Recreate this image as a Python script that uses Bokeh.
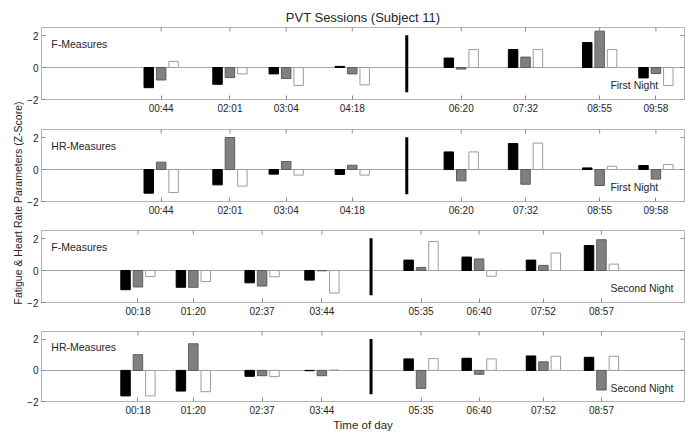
from bokeh.plotting import figure
from bokeh.models import Range1d, FixedTicker, Label, ColumnDataSource
from bokeh.layouts import row, column
from bokeh.transform import dodge
from bokeh.embed import file_html
from bokeh.resources import INLINE

FONT = "Liberation Sans"
TXT = "#262626"
TICK = "#8c8c8c"

title_text = "PVT Sessions (Subject 11)"
y_label_text = "Fatigue & Heart Rate Parameters (Z-Score)"
x_label_text = "Time of day"

# session times (minutes after midnight) and their tick labels
night1_minutes = [44, 121, 184, 258, 380, 452, 535, 598]
night1_labels = ["00:44", "02:01", "03:04", "04:18", "06:20", "07:32", "08:55", "09:58"]
night2_minutes = [18, 80, 157, 224, 335, 400, 472, 537]
night2_labels = ["00:18", "01:20", "02:37", "03:44", "05:35", "06:40", "07:52", "08:57"]

# time of the break between sessions (minutes) and its extent (z-score)
night1_break = [319]
night2_break = [279]
break_top = [2.02]
break_bottom = [-1.54]

y_ticks = [-2, 0, 2]

# First night, F-measures
n1_f_black = [-1.26, -1.05, -0.40, 0.07, 0.59, 1.12, 1.56, -0.65]
n1_f_grey = [-0.78, -0.63, -0.69, -0.40, -0.10, 0.65, 2.27, -0.38]
n1_f_white = [0.38, -0.40, -1.12, -1.09, 1.12, 1.12, 1.12, -1.12]
# First night, HR-measures
n1_hr_black = [-1.48, -0.96, -0.29, -0.31, 1.10, 1.62, 0.10, 0.25]
n1_hr_grey = [0.46, 2.00, 0.50, 0.27, -0.71, -0.92, -1.00, -0.60]
n1_hr_white = [-1.44, -1.04, -0.35, -0.35, 1.10, 1.65, 0.20, 0.31]
# Second night, F-measures
n2_f_black = [-1.20, -1.05, -0.77, -0.60, 0.65, 0.84, 0.65, 1.56]
n2_f_grey = [-1.03, -1.05, -0.97, -0.02, 0.19, 0.72, 0.32, 1.92]
n2_f_white = [-0.38, -0.69, -0.39, -1.41, 1.81, -0.36, 1.09, 0.40]
# Second night, HR-measures
n2_hr_black = [-1.64, -1.33, -0.38, -0.02, 0.74, 0.78, 0.93, 0.84]
n2_hr_grey = [1.01, 1.71, -0.34, -0.34, -1.16, -0.25, 0.55, -1.26]
n2_hr_white = [-1.64, -1.37, -0.40, 0.02, 0.76, 0.74, 0.91, 0.91]


def style_axis(ax, ticks, overrides=None):
    ax.ticker = FixedTicker(ticks=ticks)
    ax.major_tick_in = 4
    ax.major_tick_out = 0
    ax.minor_tick_in = 0
    ax.minor_tick_out = 0
    ax.axis_line_color = None
    ax.major_tick_line_color = TICK
    if overrides:
        ax.major_label_overrides = overrides
    ax.major_label_text_font = FONT
    ax.major_label_text_font_size = "10px"
    ax.major_label_text_color = TXT
    ax.major_label_standoff = 3


def panel(minutes, labels, black, grey, white, brk, measure, night,
          height, b_top, b_bottom, title=None):
    src = ColumnDataSource(dict(x=minutes, black=black, grey=grey, white=white))
    xr = Range1d(-90, 630)
    yr = Range1d(-2, 2.5)
    p = figure(width=668, height=height, x_range=xr, y_range=yr,
               output_backend="svg", toolbar_location=None, title=title,
               min_border_left=14, min_border_right=8,
               min_border_top=b_top, min_border_bottom=b_bottom)
    p.background_fill_color = "white"
    p.border_fill_color = "white"
    p.outline_line_color = "#b4b4b4"
    p.xgrid.visible = False
    p.ygrid.ticker = FixedTicker(ticks=[0])
    p.ygrid.grid_line_color = "#a8a8a8"

    style_axis(p.xaxis[0], minutes, {m: l for m, l in zip(minutes, labels)})
    style_axis(p.yaxis[0], y_ticks)

    # inward tick marks on the top and right edges of the box (clipped to frame)
    p.scatter(x=minutes, y=[yr.end] * len(minutes), marker="dash", angle=1.5708,
              size=8, line_color=TICK, line_width=1)
    p.scatter(x=[xr.end] * len(y_ticks), y=y_ticks, marker="dash",
              size=8, line_color=TICK, line_width=1)

    w = 10.6
    p.vbar(x=dodge("x", -13.9, range=xr), top="black", bottom=0, width=w,
           source=src, fill_color="#000000", line_color="#000000")
    p.vbar(x=dodge("x", 0, range=xr), top="grey", bottom=0, width=w,
           source=src, fill_color="#808080", line_color="#5c5c5c")
    p.vbar(x=dodge("x", 13.9, range=xr), top="white", bottom=0, width=w,
           source=src, fill_color="#ffffff", line_color="#9c9c9c")
    p.segment(x0=brk, x1=brk, y0=break_bottom, y1=break_top,
              line_width=3, line_color="#000000")

    p.add_layout(Label(x=-79, y=1.5, text=measure, text_font=FONT,
                       text_font_size="10.5px", text_color=TXT,
                       text_baseline="middle", text_align="left"))
    p.add_layout(Label(x=547, y=-1.12, text=night, text_font=FONT,
                       text_font_size="10.5px", text_color=TXT,
                       text_baseline="middle", text_align="left"))
    return p


p1 = panel(night1_minutes, night1_labels, n1_f_black, n1_f_grey, n1_f_white,
           night1_break, "F-Measures", "First Night", 128, 27, 29, title=title_text)
p1.title.align = "center"
p1.title.text_font = FONT
p1.title.text_font_size = "13px"
p1.title.text_font_style = "normal"
p1.title.text_color = TXT
p1.title.standoff = 5

p2 = panel(night1_minutes, night1_labels, n1_hr_black, n1_hr_grey, n1_hr_white,
           night1_break, "HR-Measures", "First Night", 101, 1, 28)
p3 = panel(night2_minutes, night2_labels, n2_f_black, n2_f_grey, n2_f_white,
           night2_break, "F-Measures", "Second Night", 101, 1, 28)
p4 = panel(night2_minutes, night2_labels, n2_hr_black, n2_hr_grey, n2_hr_white,
           night2_break, "HR-Measures", "Second Night", 103, 1, 30)
xa = p4.xaxis[0]
xa.axis_label = x_label_text
xa.axis_label_text_font = FONT
xa.axis_label_text_font_size = "11.5px"
xa.axis_label_text_font_style = "normal"
xa.axis_label_text_color = TXT
xa.axis_label_standoff = 0

H = 128 + 101 + 101 + 103
yl = figure(width=24, height=H, x_range=Range1d(0, 24), y_range=Range1d(0, H),
            output_backend="svg", toolbar_location=None, title=None,
            min_border=0, x_axis_location=None, y_axis_location=None)
yl.outline_line_color = None
yl.grid.visible = False
yl.add_layout(Label(x=17.5, y=H - 202.5, angle=90, angle_units="deg", text=y_label_text,
                    text_font=FONT, text_font_size="10.5px", text_color=TXT,
                    text_align="center", text_baseline="middle"))

layout = row(yl, column(p1, p2, p3, p4))
open("out.html", "w").write(file_html(layout, INLINE))
